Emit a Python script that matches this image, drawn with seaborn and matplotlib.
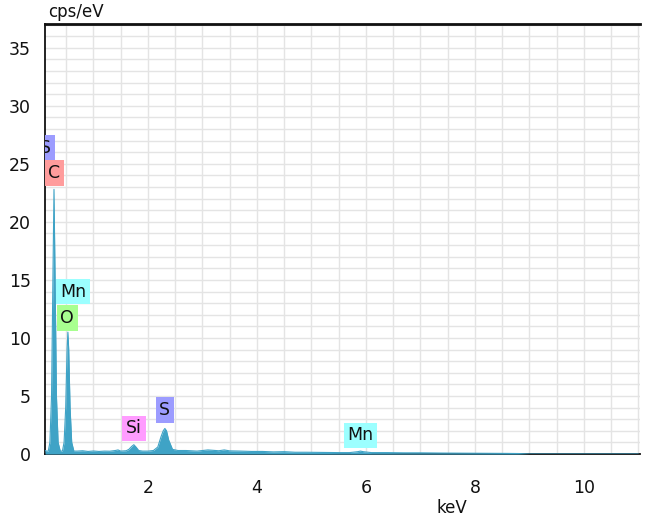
import matplotlib
matplotlib.use("Agg")
import matplotlib.pyplot as plt
import seaborn as sns
import pandas as pd
from matplotlib.ticker import MultipleLocator

# ---- data ----
energy_kev = [0.11, 0.14, 0.17, 0.20, 0.23, 0.255, 0.275, 0.295, 0.32, 0.35, 0.39,
              0.43, 0.46, 0.49, 0.515, 0.53, 0.545, 0.57, 0.60, 0.64, 0.70,
              0.80, 0.90, 1.00, 1.10, 1.20, 1.30, 1.40, 1.45, 1.50, 1.60,
              1.65, 1.70, 1.74, 1.78, 1.83, 1.90, 2.00, 2.10, 2.18, 2.24, 2.28,
              2.31, 2.34, 2.38, 2.45, 2.55, 2.70, 2.90, 3.10, 3.30, 3.40, 3.50,
              3.70, 3.90, 4.10, 4.30, 4.50, 4.70, 4.90, 5.10, 5.30, 5.50, 5.70,
              5.85, 5.90, 5.95, 6.10, 6.40, 6.70, 7.00, 7.40, 7.80, 8.20, 8.60,
              8.80, 9.00, 11.0]
cps = [0.3, 0.25, 0.25, 1.0, 5.0, 15.0, 22.8, 15.0, 5.0, 1.0, 0.25,
       0.25, 1.0, 4.0, 9.0, 10.5, 9.0, 4.0, 1.0, 0.25, 0.25,
       0.28, 0.22, 0.26, 0.22, 0.25, 0.24, 0.30, 0.35, 0.25, 0.28,
       0.4, 0.65, 0.8, 0.6, 0.3, 0.25, 0.25, 0.3, 0.6, 1.5, 2.0,
       2.2, 2.0, 1.2, 0.4, 0.3, 0.3, 0.25, 0.35, 0.28, 0.35, 0.27,
       0.25, 0.22, 0.22, 0.18, 0.2, 0.15, 0.15, 0.14, 0.13, 0.12, 0.12,
       0.2, 0.25, 0.2, 0.12, 0.12, 0.1, 0.1, 0.08, 0.07, 0.06, 0.05,
       0.04, 0.0, 0.0]

peak_labels = ["S", "C", "Mn", "O", "Si", "S", "Mn"]
peak_x = [0.125, 0.275, 0.625, 0.52, 1.74, 2.31, 5.90]
peak_y = [26.4, 24.2, 14.0, 11.7, 2.2, 3.8, 1.6]
peak_colors = ["#9c9cff", "#ff9c9c", "#9cffff", "#a8ff90", "#ff9cff", "#9c9cff", "#9cffff"]

x_ticks = [2, 4, 6, 8, 10]
y_ticks = [0, 5, 10, 15, 20, 25, 30, 35]

df = pd.DataFrame({"keV": energy_kev, "cps": cps})

sns.set_style("white")
plt.rcParams["font.family"] = ["DejaVu Sans"]

fig = plt.figure(figsize=(6.51, 5.23), dpi=100)
ax = fig.add_axes([45/651, 69/523, 595/651, 430/523])

fill_col = "#3fa3c6"
ax.fill_between(df["keV"], 0, df["cps"], color=fill_col, linewidth=0, zorder=3)
sns.lineplot(data=df, x="keV", y="cps", ax=ax, color=fill_col, linewidth=0.8, zorder=4)

ax.set_xlim(0.11, 11.03)
ax.set_ylim(0, 37.05)

ax.xaxis.set_minor_locator(MultipleLocator(0.5))
ax.yaxis.set_minor_locator(MultipleLocator(1))
ax.set_xticks(x_ticks)
ax.set_yticks(y_ticks)
ax.set_xticklabels([str(t) for t in x_ticks])
ax.set_yticklabels([str(t) for t in y_ticks])

ax.grid(which="both", color="#e4e4e4", linewidth=1.0, zorder=0)
ax.set_axisbelow(True)

ax.tick_params(axis="x", which="major", direction="out", length=14, width=1.2, color="#222222",
               labelsize=12.5, pad=4, labelcolor="#111111")
ax.tick_params(axis="x", which="minor", direction="out", length=7, width=1.2, color="#222222")
ax.tick_params(axis="y", which="major", direction="out", length=8, width=1.2, color="#222222",
               labelsize=12.5, pad=2, labelcolor="#111111")
ax.tick_params(axis="y", which="minor", direction="out", length=5, width=1.2, color="#222222")

for s in ["left", "bottom"]:
    ax.spines[s].set_color("#111111")
    ax.spines[s].set_linewidth(1.3)
ax.spines["top"].set_color("#111111")
ax.spines["top"].set_linewidth(2.0)
ax.spines["right"].set_visible(False)

ax.set_xlabel("")
ax.set_ylabel("")

for lab, x, y, c in zip(peak_labels, peak_x, peak_y, peak_colors):
    t = ax.text(x, y, lab, ha="center", va="center", fontsize=12.5, color="#111111", zorder=6,
                bbox=dict(boxstyle="square,pad=0.22", facecolor=c, edgecolor="none"))
    t.set_clip_on(True)
    t.set_clip_path(ax.patch)

fig.text(48/651, 1 - 12/523, "cps/eV", ha="left", va="center", fontsize=12, color="#111111")
fig.text(452/651, 1 - 508/523, "keV", ha="center", va="center", fontsize=12, color="#111111")

fig.savefig("out.png", dpi=100)
